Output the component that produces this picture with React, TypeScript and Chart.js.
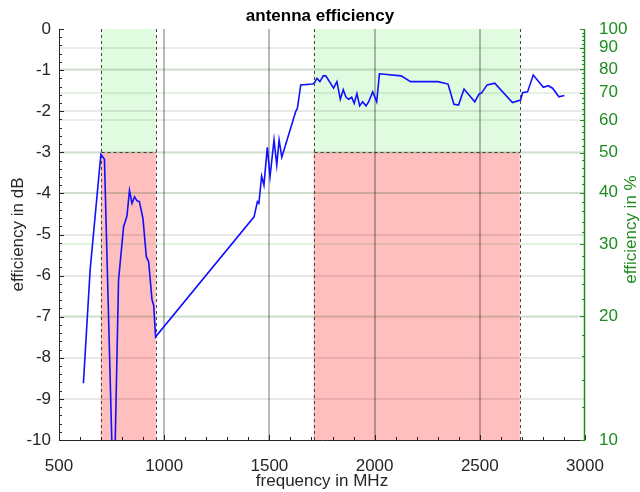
import React, { useEffect, useRef } from "react";
import { Chart, registerables } from "chart.js";

Chart.register(...registerables);

const freqMHz = [616, 648, 699, 716, 760, 783, 807, 823, 835, 847, 859, 871, 882, 899, 915, 926, 942, 950, 959,
  1427, 1443, 1450, 1463, 1474, 1490, 1503, 1522, 1535, 1546, 1559, 1625, 1633, 1649, 1705,
  1713, 1726, 1740, 1756, 1768, 1805, 1821, 1837, 1851, 1864, 1877, 1891, 1903, 1916, 1929, 1943, 1959, 1972, 1991, 2010, 2023,
  2126, 2171, 2301, 2349, 2377, 2399, 2425, 2476, 2497, 2508, 2535, 2571, 2655, 2694, 2703, 2727, 2754, 2802, 2825, 2846, 2876, 2902];
const efficiencyDb = [-8.62, -5.86, -3.05, -3.17, -11.8, -6.11, -4.81, -4.55, -3.93, -4.24, -4.08, -4.18, -4.2, -4.61, -5.54, -5.66, -6.59, -6.72, -7.49,
  -4.57, -4.2, -4.24, -3.58, -3.8, -2.88, -3.59, -2.7, -3.31, -2.7, -3.12, -2.01, -1.93, -1.36, -1.34,
  -1.32, -1.2, -1.28, -1.14, -1.14, -1.44, -1.28, -1.71, -1.48, -1.66, -1.71, -1.66, -1.81, -1.57, -1.87, -1.77, -1.87, -1.77, -1.53, -1.77, -1.09,
  -1.14, -1.28, -1.28, -1.34, -1.83, -1.85, -1.46, -1.77, -1.58, -1.56, -1.36, -1.32, -1.79, -1.73, -1.55, -1.53, -1.12, -1.42, -1.38, -1.44, -1.65, -1.62];

const bandRanges = [[698, 960], [1710, 2690]];
const bandThresholdDb = -3;
const xTicks = [500, 1000, 1500, 2000, 2500, 3000];
const dbTicks = [-10, -9, -8, -7, -6, -5, -4, -3, -2, -1, 0];
const pctTicks = [10, 20, 30, 40, 50, 60, 70, 80, 90, 100];
const pctMinorTicks = [12, 14, 16, 18, 22, 24, 26, 28, 32, 34, 36, 38, 42, 44, 46, 48, 52, 54, 56, 58, 62, 64, 66, 68, 72, 74, 76, 78, 82, 84, 86, 88, 92, 94, 96, 98];
const rightAxisTitle = "efficiency in %";

const pctToDb = (p: number) => 10 * Math.log10(p / 100);
const GREEN = "#1e8c1e";
const FONT = "'Liberation Sans', Arial, sans-serif";
const FS = 17;

const decorPlugin = {
  id: "decor",
  beforeDatasetsDraw(chart: any) {
    const { ctx, chartArea: a, scales } = chart;
    const x = scales.x, y = scales.y;
    ctx.save();
    for (const [f0, f1] of bandRanges) {
      const x0 = x.getPixelForValue(f0), x1 = x.getPixelForValue(f1);
      const yt = y.getPixelForValue(bandThresholdDb);
      ctx.fillStyle = "rgb(225,251,225)";
      ctx.fillRect(x0, a.top, x1 - x0, yt - a.top);
      ctx.fillStyle = "rgb(255,191,191)";
      ctx.fillRect(x0, yt, x1 - x0, a.bottom - yt);
    }
    ctx.lineWidth = 1.5;
    ctx.strokeStyle = "rgba(0,0,0,0.13)";
    for (const d of dbTicks) {
      if (d === 0 || d === -10) continue;
      const py = Math.round(y.getPixelForValue(d));
      ctx.beginPath(); ctx.moveTo(a.left, py); ctx.lineTo(a.right, py); ctx.stroke();
    }
    ctx.strokeStyle = "rgba(0,140,0,0.14)";
    for (const p of pctTicks) {
      if (p === 10 || p === 100) continue;
      const py = Math.round(y.getPixelForValue(pctToDb(p)));
      ctx.beginPath(); ctx.moveTo(a.left, py); ctx.lineTo(a.right, py); ctx.stroke();
    }
    ctx.lineWidth = 2;
    ctx.strokeStyle = "rgba(0,0,0,0.27)";
    for (const f of xTicks) {
      if (f === 500 || f === 3000) continue;
      const px = Math.round(x.getPixelForValue(f));
      ctx.beginPath(); ctx.moveTo(px, a.top); ctx.lineTo(px, a.bottom); ctx.stroke();
    }
    ctx.setLineDash([3, 3]);
    ctx.lineWidth = 1;
    ctx.strokeStyle = "rgba(40,40,40,0.85)";
    for (const [f0, f1] of bandRanges) {
      const x0 = Math.round(x.getPixelForValue(f0)) + 0.5, x1 = Math.round(x.getPixelForValue(f1)) + 0.5;
      const yt = Math.round(y.getPixelForValue(bandThresholdDb)) + 0.5;
      ctx.beginPath();
      ctx.moveTo(x0, a.top); ctx.lineTo(x0, a.bottom);
      ctx.moveTo(x1, a.top); ctx.lineTo(x1, a.bottom);
      ctx.moveTo(x0, yt); ctx.lineTo(x1, yt);
      ctx.stroke();
    }
    ctx.restore();
  },
  afterDatasetsDraw(chart: any) {
    const { ctx, chartArea: a, scales } = chart;
    const x = scales.x, y = scales.y;
    ctx.save();
    ctx.lineWidth = 1;
    ctx.strokeStyle = "#262626";
    ctx.beginPath();
    ctx.moveTo(a.left + 0.5, a.top); ctx.lineTo(a.left + 0.5, a.bottom + 0.5); ctx.lineTo(a.right, a.bottom + 0.5);
    ctx.stroke();
    ctx.beginPath();
    for (let i = 0; i <= 50; i++) {
      const d = -10 + i * 0.2;
      const py = Math.round(y.getPixelForValue(d)) + 0.5;
      const len = i % 5 === 0 ? 5 : 3;
      ctx.moveTo(a.left, py); ctx.lineTo(a.left + len, py);
    }
    for (let f = 500; f <= 3000; f += 100) {
      const px = Math.round(x.getPixelForValue(f)) + 0.5;
      const len = f % 500 === 0 ? 5 : 3;
      ctx.moveTo(px, a.bottom); ctx.lineTo(px, a.bottom - len);
    }
    ctx.stroke();
    ctx.strokeStyle = GREEN;
    ctx.lineWidth = 1.5;
    ctx.beginPath();
    ctx.moveTo(a.right - 0.5, a.top); ctx.lineTo(a.right - 0.5, a.bottom + 1);
    ctx.stroke();
    ctx.lineWidth = 1;
    ctx.beginPath();
    for (const p of pctTicks) {
      const py = Math.round(y.getPixelForValue(pctToDb(p))) + 0.5;
      ctx.moveTo(a.right, py); ctx.lineTo(a.right - 5, py);
    }
    for (const p of pctMinorTicks) {
      const py = Math.round(y.getPixelForValue(pctToDb(p))) + 0.5;
      ctx.moveTo(a.right, py); ctx.lineTo(a.right - 3, py);
    }
    ctx.stroke();
    ctx.translate(631, (a.top + a.bottom) / 2 - 5);
    ctx.rotate(-Math.PI / 2);
    ctx.fillStyle = GREEN;
    ctx.font = `${FS}px ${FONT}`;
    ctx.textAlign = "center";
    ctx.textBaseline = "middle";
    ctx.fillText(rightAxisTitle, 0, 0);
    ctx.restore();
  },
};

export default function App() {
  const ref = useRef<HTMLCanvasElement | null>(null);
  useEffect(() => {
    if (!ref.current) return;
    const chart = new Chart(ref.current, {
      type: "line",
      data: {
        datasets: [
          {
            label: "efficiency",
            data: freqMHz.map((f, i) => ({ x: f, y: efficiencyDb[i] })),
            borderColor: "#1010ff",
            borderWidth: 1.6,
            pointRadius: 0,
            tension: 0,
            fill: false,
          },
        ],
      },
      options: {
        animation: false,
        responsive: false,
        maintainAspectRatio: false,
        layout: { padding: 0 },
        plugins: {
          legend: { display: false },
          tooltip: { enabled: false },
          title: {
            display: true,
            text: "antenna efficiency",
            color: "#000",
            font: { family: FONT, size: FS, weight: "bold" },
            padding: { top: 5.8, bottom: 2.8 },
          },
        },
        scales: {
          x: {
            type: "linear",
            min: 500,
            max: 3000,
            grid: { display: false },
            border: { display: false },
            afterBuildTicks: (s: any) => { s.ticks = xTicks.map((v) => ({ value: v })); },
            afterFit: (s: any) => { s.height = 52; },
            ticks: { color: "#262626", font: { family: FONT, size: FS }, padding: 8, autoSkip: false, maxRotation: 0, callback: (v: any) => String(v) },
            title: { display: true, text: "frequency in MHz", color: "#262626", font: { family: FONT, size: FS }, padding: { bottom: 0.5, top: 0 } },
          },
          y: {
            type: "linear",
            position: "left",
            min: -10,
            max: 0,
            grid: { display: false },
            border: { display: false },
            afterBuildTicks: (s: any) => { s.ticks = dbTicks.map((v) => ({ value: v })); },
            afterFit: (s: any) => { s.width = 59; },
            ticks: { color: "#262626", font: { family: FONT, size: FS }, padding: 0, autoSkip: false, callback: (v: any) => String(v) },
            title: { display: true, text: "efficiency in dB", color: "#262626", font: { family: FONT, size: FS }, padding: { top: 8, bottom: 0 } },
          },
          y2: {
            type: "linear",
            position: "right",
            min: -10,
            max: 0,
            grid: { display: false },
            border: { display: false },
            afterBuildTicks: (s: any) => { s.ticks = pctTicks.map((p) => ({ value: pctToDb(p) })); },
            afterFit: (s: any) => { s.width = 55; },
            ticks: {
              color: GREEN,
              font: { family: FONT, size: FS },
              padding: 6,
              autoSkip: false,
              callback: (v: any) => String(Math.round(100 * Math.pow(10, Number(v) / 10))),
            },
            title: { display: false },
          },
        },
      },
      plugins: [decorPlugin],
    } as any);
    return () => chart.destroy();
  }, []);
  return (
    <div style={{ position: "fixed", left: 0, top: 0, width: 640, height: 492, background: "#fff" }}>
      <canvas ref={ref} width={640} height={492} style={{ display: "block" }} />
    </div>
  );
}
